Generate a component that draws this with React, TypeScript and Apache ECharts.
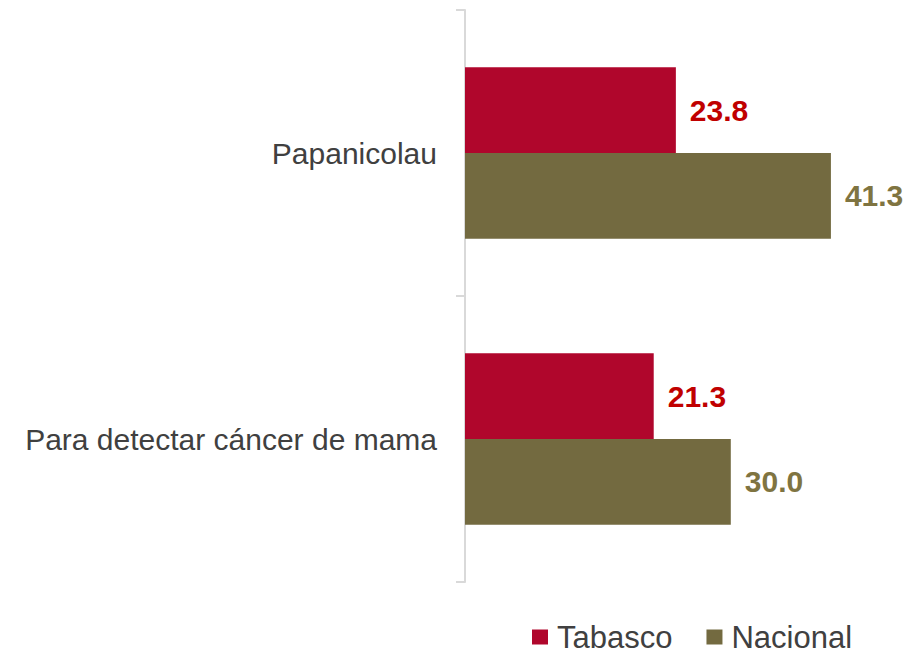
import React, { useEffect, useRef } from "react";
import * as echarts from "echarts";

const categories = ["Papanicolau", "Para detectar cáncer de mama"];
const tabasco = [23.8, 21.3];
const nacional = [41.3, 30.0];
const seriesNames = ["Tabasco", "Nacional"];

export default function App() {
  const ref = useRef<HTMLDivElement>(null);
  useEffect(() => {
    document.body.style.margin = "0";
    const chart = echarts.init(ref.current!, null, { renderer: "svg" });
    const font = "'Liberation Sans', Arial, sans-serif";
    chart.setOption({
      animation: false,
      textStyle: { fontFamily: font },
      grid: { left: 465, top: 10, width: 443, height: 572, containLabel: false },
      legend: {
        left: 527,
        top: 616,
        icon: "rect",
        itemWidth: 16,
        itemHeight: 15,
        itemGap: 34,
        data: seriesNames,
        textStyle: {
          fontSize: 31,
          lineHeight: 32,
          color: "#404040",
          fontFamily: font,
          padding: [0, 0, 0, 4],
        },
      },
      xAxis: {
        type: "value",
        min: 0,
        max: 50,
        show: false,
      },
      yAxis: {
        type: "category",
        data: categories,
        inverse: true,
        axisLine: { show: true, lineStyle: { color: "#D9D9D9", width: 2 } },
        axisTick: { show: true, length: 9, lineStyle: { color: "#D9D9D9", width: 2 } },
        axisLabel: { fontSize: 30, color: "#404040", margin: 28, fontFamily: font },
      },
      series: [
        {
          name: seriesNames[0],
          type: "bar",
          data: tabasco,
          barGap: "0%",
          barCategoryGap: "40%",
          itemStyle: { color: "#B0062C" },
          label: {
            show: true,
            position: "right",
            distance: 14,
            formatter: (p: any) => p.value.toFixed(1),
            fontSize: 30,
            fontWeight: "bold",
            color: "#C00000",
            fontFamily: font,
          },
        },
        {
          name: seriesNames[1],
          type: "bar",
          data: nacional,
          barGap: "0%",
          barCategoryGap: "40%",
          itemStyle: { color: "#736A40" },
          label: {
            show: true,
            position: "right",
            distance: 14,
            formatter: (p: any) => p.value.toFixed(1),
            fontSize: 30,
            fontWeight: "bold",
            color: "#7F7441",
            fontFamily: font,
          },
        },
      ],
    });
    return () => chart.dispose();
  }, []);
  return <div ref={ref} style={{ width: 910, height: 656 }} />;
}
